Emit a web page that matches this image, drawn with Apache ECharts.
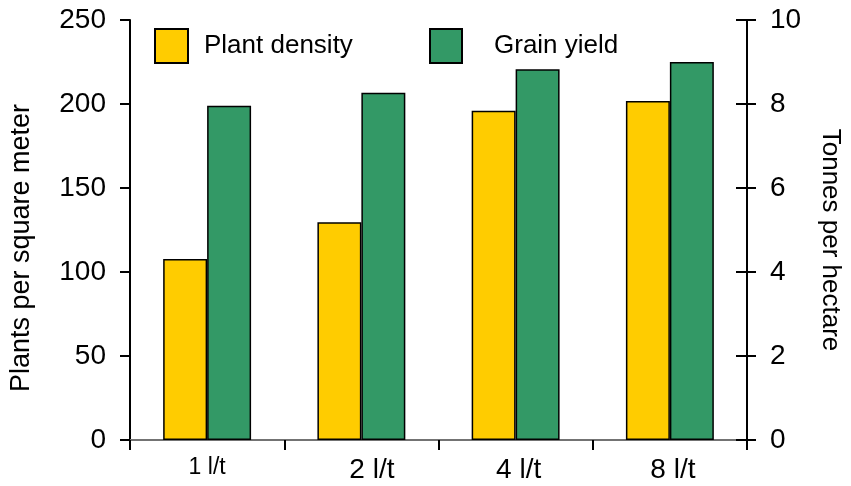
<!DOCTYPE html>
<html>
<head>
<meta charset="utf-8">
<script src="https://cdn.jsdelivr.net/npm/echarts@6/dist/echarts.min.js"></script>
<style>html,body{margin:0;padding:0;background:#fff}#c{width:851px;height:486px}</style>
</head>
<body>
<div id="c"></div>
<script>
var categories = ['1 l/t', '2 l/t', '4 l/t', '8 l/t'];
var plantDensity = [107.7, 129.6, 196, 201.8];
var grainYield = [7.96, 8.27, 8.83, 9.0];
var leftTicks = {min: 0, max: 250, interval: 50};
var rightTicks = {min: 0, max: 10, interval: 2};

var chart = echarts.init(document.getElementById('c'));
var font = 'Liberation Sans, Arial, sans-serif';
chart.setOption({
  animation: false,
  textStyle: {fontFamily: font},
  legend: [
    {data: ['Plant density'], left: 149, top: 23, itemWidth: 33, itemHeight: 34, icon: 'rect',
     textStyle: {fontSize: 26, color: '#000', fontFamily: font, padding: [0, 0, 0, 11]}},
    {data: ['Grain yield'], left: 424, top: 23, itemWidth: 32, itemHeight: 34, icon: 'rect',
     textStyle: {fontSize: 26, color: '#000', fontFamily: font, padding: [0, 0, 0, 27]}}
  ],
  grid: {left: 128, right: 97, top: 20, bottom: 46},
  xAxis: [
    {type: 'category', data: categories,
     axisLine: {lineStyle: {color: '#000', width: 2}},
     axisTick: {show: true, inside: false, length: 10, alignWithLabel: false, lineStyle: {color: '#000', width: 2}},
     axisLabel: {margin: 16, color: '#000',
       formatter: function (v) {
         if (v === '1 l/t') return '{s|' + v + '}';
         if (v === '2 l/t') return '{m|' + v + '}';
         return '{b|' + v + '}';
       },
       rich: {s: {fontSize: 23, fontFamily: font, color: '#000'},
              m: {fontSize: 28, fontFamily: font, color: '#000', padding: [0, 0, 0, 21]},
              b: {fontSize: 28, fontFamily: font, color: '#000', padding: [0, 0, 0, 6]}}}},
    {type: 'category', data: categories, position: 'top',
     axisLine: {show: true, lineStyle: {color: '#999', width: 1.5}},
     axisTick: {show: false}, axisLabel: {show: false}}
  ],
  yAxis: [
    {type: 'value', min: leftTicks.min, max: leftTicks.max, interval: leftTicks.interval, position: 'left',
     name: 'Plants per square meter', nameLocation: 'middle', nameGap: 95,
     nameTextStyle: {fontSize: 27, color: '#000', fontFamily: font, padding: [0, 36, 0, 0]},
     axisLine: {show: true, lineStyle: {color: '#000', width: 2}},
     axisTick: {show: true, length: 10, lineStyle: {color: '#000', width: 2}},
     axisLabel: {fontSize: 28, color: '#000', margin: 24, fontFamily: font},
     splitLine: {show: false}},
    {type: 'value', min: rightTicks.min, max: rightTicks.max, interval: rightTicks.interval, position: 'right',
     name: 'Tonnes per hectare', nameLocation: 'middle', nameGap: 70, nameRotate: -90,
     nameTextStyle: {fontSize: 26, color: '#000', fontFamily: font, padding: [0, 0, 0, 20]},
     axisLine: {show: true, lineStyle: {color: '#000', width: 2}},
     axisTick: {show: true, length: 9, lineStyle: {color: '#000', width: 2}},
     axisLabel: {fontSize: 28, color: '#000', margin: 23, fontFamily: font},
     splitLine: {show: false}},
    {type: 'value', min: rightTicks.min, max: rightTicks.max, interval: rightTicks.interval, position: 'right',
     axisLine: {show: false}, axisTick: {show: true, inside: true, length: 11, lineStyle: {color: '#000', width: 2}},
     axisLabel: {show: false}, splitLine: {show: false}}
  ],
  series: [
    {name: 'Plant density', type: 'bar', yAxisIndex: 0, data: plantDensity,
     barGap: '0%', barCategoryGap: '43%',
     itemStyle: {color: '#FFCC00', borderColor: '#000', borderWidth: 1.5}},
    {name: 'Grain yield', type: 'bar', yAxisIndex: 1, data: grainYield,
     barGap: '0%', barCategoryGap: '43%',
     itemStyle: {color: '#339966', borderColor: '#000', borderWidth: 1.5}}
  ]
});
</script>
</body>
</html>
